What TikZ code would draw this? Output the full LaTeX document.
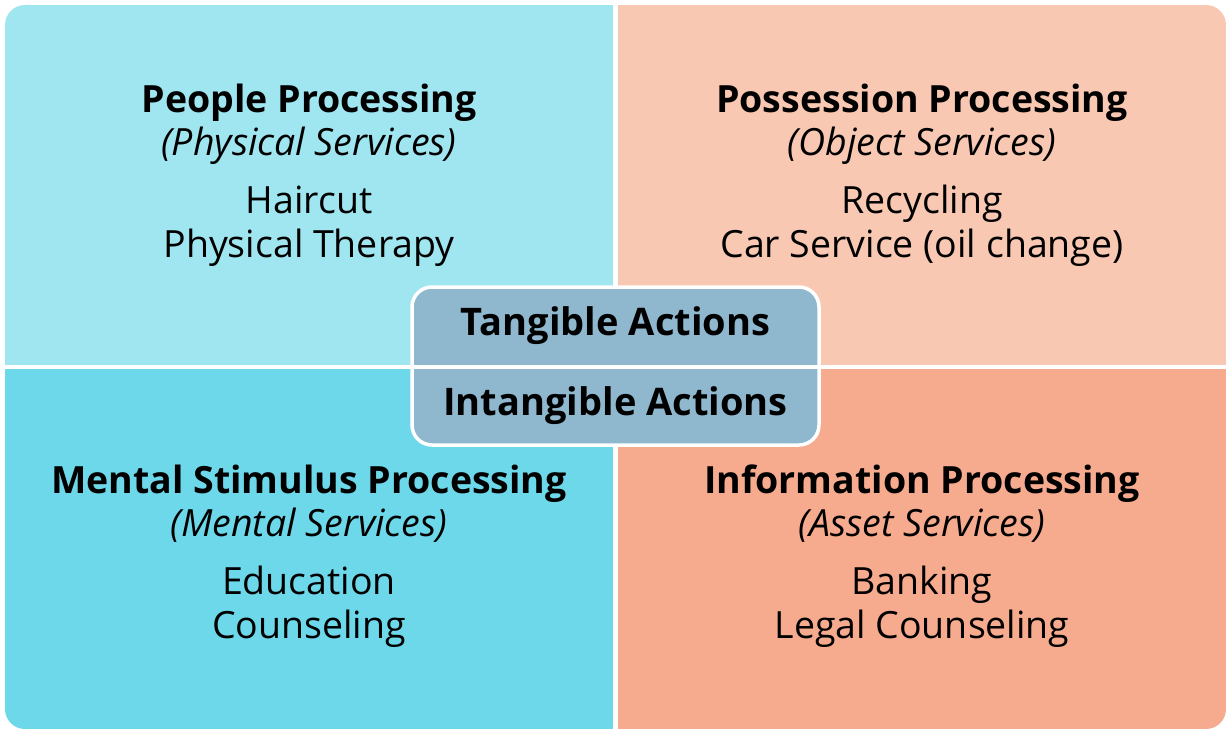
\documentclass[tikz,border=0pt]{standalone}
\usepackage{fontspec}
\setmainfont{Open Sans}
\definecolor{tlc}{HTML}{A0E6F1}
\definecolor{blc}{HTML}{6DD8EA}
\definecolor{trc}{HTML}{F9C8B3}
\definecolor{brc}{HTML}{F7AB8E}
\definecolor{cc}{HTML}{8FB8CF}
\begin{document}
\begin{tikzpicture}[x=1pt,y=-1pt,
  ttl/.style={anchor=base,inner sep=0pt,font=\fontsize{37.5}{44}\selectfont\bfseries},
  sub/.style={anchor=base,inner sep=0pt,font=\fontsize{37.5}{44}\selectfont\itshape},
  itm/.style={anchor=base,inner sep=0pt,font=\fontsize{37.5}{44}\selectfont},
  ctr/.style={anchor=base,inner sep=0pt,font=\fontsize{38}{44}\selectfont\bfseries}]
\useasboundingbox (0,0) rectangle (1231,734);
\fill[white] (0,0) rectangle (1231,734);
\begin{scope}
\clip[rounded corners=20pt] (5,5) rectangle (1226,729);
\fill[tlc] (5,5) rectangle (615.25,367);
\fill[trc] (615.25,5) rectangle (1226,367);
\fill[blc] (5,367) rectangle (615.25,729);
\fill[brc] (615.25,367) rectangle (1226,729);
\end{scope}
\fill[white] (613,0) rectangle (617.5,734);
\fill[white] (0,365) rectangle (1231,369.3);
% center box
\draw[white,line width=3.5pt,fill=cc,rounded corners=20pt] (412,287) rectangle (819,445);
\draw[white,line width=3.5pt] (412,367) -- (819,367);
% texts
\node[ttl] (t1) at (309,112) {People Processing};
\node[sub] (s1) at (309,155) {(Physical Services)};
\node[itm] (a1) at (309,213) {Haircut};
\node[itm] (b1) at (309,257.5) {Physical Therapy};
\node[ttl] (t2) at (922,112) {Possession Processing};
\node[sub] (s2) at (922,155) {(Object Services)};
\node[itm] (a2) at (922,213) {Recycling};
\node[itm] (b2) at (922,257.5) {Car Service (oil change)};
\node[ttl] (t3) at (309,493) {Mental Stimulus Processing};
\node[sub] (s3) at (309,536) {(Mental Services)};
\node[itm] (a3) at (309,594) {Education};
\node[itm] (b3) at (309,638.5) {Counseling};
\node[ttl] (t4) at (922,493) {Information Processing};
\node[sub] (s4) at (922,536) {(Asset Services)};
\node[itm] (a4) at (922,594) {Banking};
\node[itm] (b4) at (922,638.5) {Legal Counseling};
\node[ctr] (c1) at (615.5,335) {Tangible Actions};
\node[ctr] (c2) at (615.5,415) {Intangible Actions};
\end{tikzpicture}
\end{document}
